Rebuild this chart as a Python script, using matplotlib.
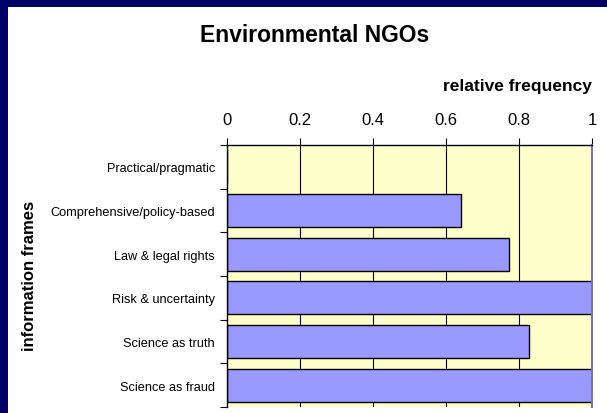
import matplotlib
matplotlib.use("Agg")
import matplotlib.pyplot as plt
from matplotlib.patches import Rectangle
import numpy as np

categories = ["Practical/pragmatic", "Comprehensive/policy-based", "Law & legal rights",
              "Risk & uncertainty", "Science as truth", "Science as fraud"]
values = [0.0, 0.642, 0.772, 1.0, 0.828, 1.0]
xticks = [0, 0.2, 0.4, 0.6, 0.8, 1]
xtick_labels = ["0", "0.2", "0.4", "0.6", "0.8", "1"]

W, H = 607, 414
fig = plt.figure(figsize=(W / 100, H / 100), dpi=100)
fig.patch.set_facecolor("white")

navy = "#000066"
fig.patches.append(Rectangle((0, 0), 8 / W, 1, transform=fig.transFigure,
                             facecolor=navy, edgecolor="none", zorder=0))
fig.patches.append(Rectangle((0, 1 - 8 / H), 1, 8 / H, transform=fig.transFigure,
                             facecolor=navy, edgecolor="none", zorder=0))

left, right, top, bottom = 227.3, 592, 146, 408
ax = fig.add_axes([left / W, 1 - bottom / H, (right - left) / W, (bottom - top) / H])
ax.set_facecolor("#FFFFCC")

y = np.arange(len(categories))
ax.set_xlim(0, 1)
ax.set_ylim(len(categories) - 0.5, -0.5)

for xv in xticks[1:-1]:
    ax.axvline(xv, color="black", lw=0.8, zorder=1)

ax.barh(y, values, height=0.75, color="#9999FF", edgecolor="black", linewidth=1.0, zorder=2)

ax.xaxis.tick_top()
ax.set_xticks(xticks)
ax.set_xticklabels(xtick_labels, fontsize=12, family=["Liberation Sans", "DejaVu Sans"])
ax.tick_params(axis="x", direction="out", length=5, width=0.8, pad=8, color="black")

ax.set_yticks(y)
ax.set_yticklabels(categories, fontsize=9.2, family=["Liberation Sans", "DejaVu Sans"])
ax.set_yticks(np.arange(len(categories) + 1) - 0.5, minor=True)
ax.tick_params(axis="y", which="major", length=0, pad=9)
ax.tick_params(axis="y", which="minor", direction="out", length=5, width=0.8, color="black")

ax.spines["bottom"].set_visible(False)
ax.spines["top"].set_color("black")
ax.spines["top"].set_linewidth(1.0)
ax.spines["left"].set_color("black")
ax.spines["left"].set_linewidth(1.0)
ax.spines["right"].set_color("#7777AA")
ax.spines["right"].set_linewidth(1.5)

fig.text(315 / W, 1 - 35 / H, "Environmental NGOs", fontsize=16.5, fontweight="bold",
         ha="center", va="center", family=["Liberation Sans", "DejaVu Sans"])
fig.text(592 / W, 1 - 86 / H, "relative frequency", fontsize=12.5, fontweight="bold",
         ha="right", va="center", family=["Liberation Sans", "DejaVu Sans"])
fig.text(30 / W, 1 - 276 / H, "information frames", fontsize=12, fontweight="bold",
         ha="center", va="center", rotation=90, family=["Liberation Sans", "DejaVu Sans"])

fig.savefig("out.png", dpi=100)
